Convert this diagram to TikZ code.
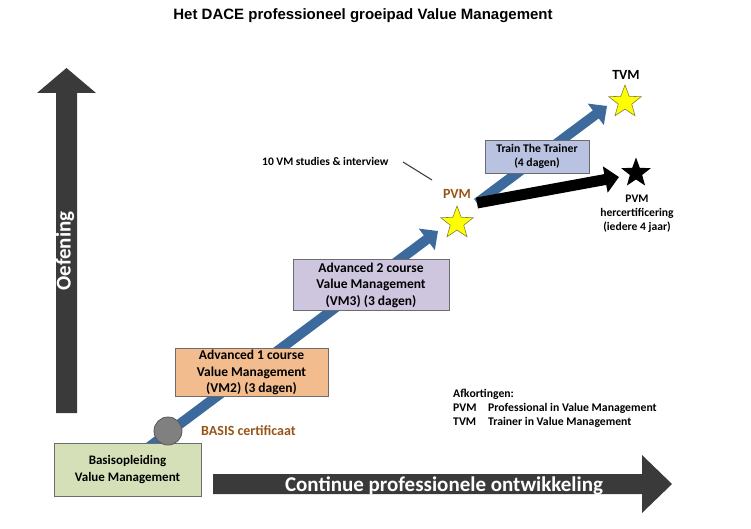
\documentclass[tikz,border=0pt]{standalone}
\usepackage{fontspec}
\setmainfont{Carlito}
\newfontfamily\titlefont{Liberation Sans}
\usetikzlibrary{arrows.meta,positioning,shapes.geometric}

\definecolor{pathblue}{RGB}{60,106,156}
\definecolor{darkbar}{RGB}{58,58,58}
\definecolor{certbrown}{RGB}{152,84,24}
\definecolor{basisgreen}{RGB}{214,224,184}
\definecolor{vmtwo}{RGB}{243,188,142}
\definecolor{vmthree}{RGB}{206,198,222}
\definecolor{trainblue}{RGB}{186,194,226}
\definecolor{staryellow}{RGB}{255,255,0}
\definecolor{staredge}{RGB}{130,130,60}

\begin{document}
\begin{tikzpicture}[x=1pt,y=-1pt,
  course/.style={draw=gray!85!black,line width=0.8pt,align=center,inner sep=0pt,
    font=\bfseries\fontsize{13.5}{16.5}\selectfont},
  bigtext/.style={text=white,inner sep=0pt,font=\bfseries\fontsize{21}{24}\selectfont},
  pathstep/.style={line width=10pt,pathblue,-{Triangle[width=26pt,length=14pt]}},
  recert/.style={line width=11pt,black,-{Triangle[width=26pt,length=14pt]}},
  starmark/.style={star,star points=5,star point ratio=2.4,inner sep=0pt,
    minimum size=34pt,line width=0.6pt},
  tag/.style={inner sep=0pt,font=\bfseries\fontsize{14}{16}\selectfont}]
\useasboundingbox (0,0) rectangle (751,529);
% Title
\node[inner sep=0pt,anchor=base,font=\titlefont\bfseries\fontsize{15}{18}\selectfont]
  (title) at (363,20) {Het DACE professioneel groeipad Value Management};
% Axes as block arrows
\fill[darkbar] (56,413) -- (56,93) -- (37,93) -- (66.5,68) -- (96,93) -- (77,93) -- (77,413) -- cycle;
\node[bigtext,rotate=90] (oefening) at (65,251) {Oefening};
\fill[darkbar] (213,474) -- (642,474) -- (642,455) -- (672,484) -- (642,513) -- (642,494) -- (213,494) -- cycle;
\node[bigtext,anchor=base] (ontwikkeling) at (444,491) {Continue professionele ontwikkeling};
% Growth path
\coordinate (vmstart) at (137,456);
\coordinate (pvmtip) at (438,231);
\coordinate (pvmout) at (477,203);
\coordinate (tvmtip) at (607,106);
\coordinate (hertip) at (619,177);
\draw[pathstep] (vmstart) -- (pvmtip);
\draw[pathstep] (pvmout) -- (tvmtip);
\draw[recert] (pvmout) -- (hertip);
% Courses
\node[course,fill=basisgreen,minimum width=147pt,minimum height=53pt,
  font=\bfseries\fontsize{13}{17.5}\selectfont] (basis) at (127.5,469.5) {Basisopleiding\\Value Management};
\node[circle,fill=gray,draw=gray!70!black,line width=0.8pt,minimum size=28pt,inner sep=0pt] (basiscert) at (168,431) {};
\node[tag,text=certbrown,anchor=base west] (basislabel) at (201,435) {BASIS certificaat};
\node[course,fill=vmtwo,minimum width=153pt,minimum height=48pt] (vm2) at (251.5,372.5)
  {Advanced 1 course\\Value Management\\(VM2) (3 dagen)};
\node[course,fill=vmthree,minimum width=156pt,minimum height=51pt] (vm3) at (371,285)
  {Advanced 2 course\\Value Management\\(VM3) (3 dagen)};
\node[course,fill=trainblue,minimum width=104pt,minimum height=33pt,
  font=\bfseries\fontsize{11.7}{13.5}\selectfont] (trainer) at (537,156.5) {Train The Trainer\\(4 dagen)};
% Certificates
\node[starmark,fill=staryellow,draw=staredge] (pvmstar) at (457,223) {};
\node[tag,text=certbrown] (pvm) at (457,194) {PVM};
\node[starmark,fill=staryellow,draw=staredge] (tvmstar) at (625,102) {};
\node[tag] (tvm) at (626,75) {TVM};
\node[starmark,fill=black,minimum size=31pt] (herstar) at (636,173) {};
\node[inner sep=0pt,align=center,font=\bfseries\fontsize{11.6}{13.8}\selectfont]
  (herlabel) at (637,214) {PVM\\hercertificering\\(iedere 4 jaar)};
% Note on PVM
\node[inner sep=0pt,anchor=west,font=\bfseries\fontsize{11.5}{14}\selectfont] (studies) at (262,162) {10 VM studies \& interview};
\coordinate (notestart) at (403,162);
\coordinate (noteend) at (432,180);
\draw[line width=1.1pt,black!75] (notestart) -- (noteend);
% Abbreviations
\node[inner sep=0pt,anchor=north west,align=left,font=\bfseries\fontsize{11.7}{13.8}\selectfont] (afk) at (453,389)
  {Afkortingen:\\\makebox[35pt][l]{PVM}Professional in Value Management\\\makebox[35pt][l]{TVM}Trainer in Value Management};
\end{tikzpicture}
\end{document}
